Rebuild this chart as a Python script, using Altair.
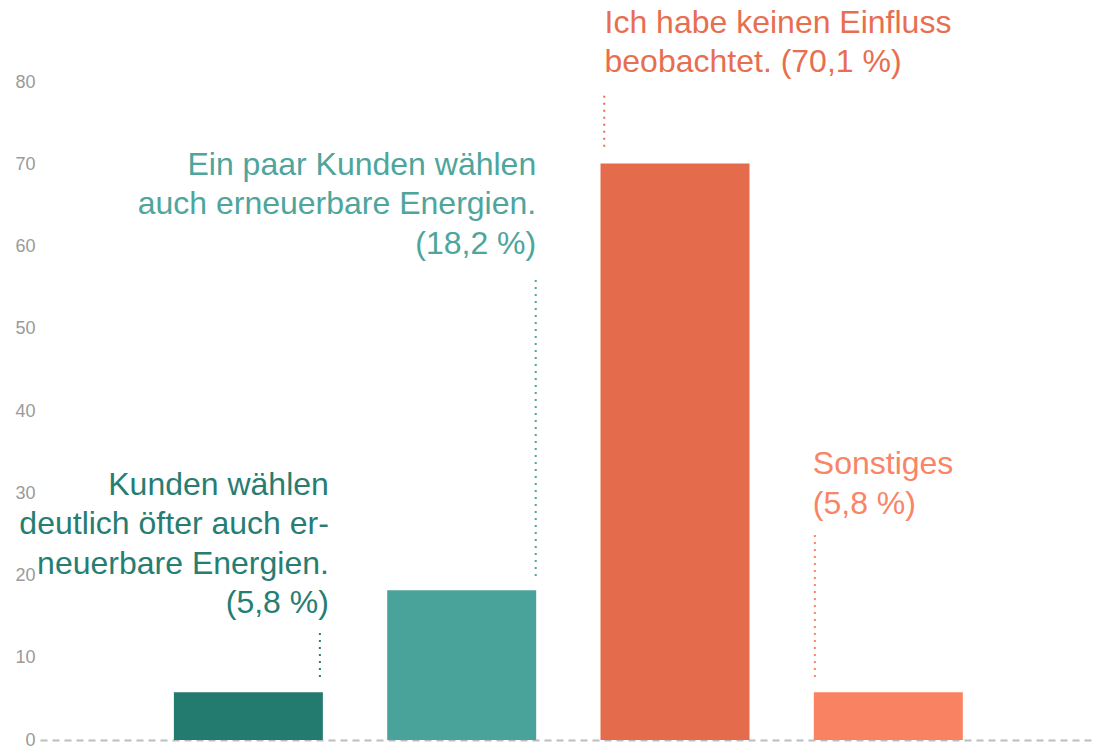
import altair as alt
import pandas as pd

# --- data ---
categories = [
    "Kunden wählen deutlich öfter",
    "Ein paar Kunden",
    "Kein Einfluss",
    "Sonstiges",
]
values = [5.8, 18.2, 70.1, 5.8]
bar_colors = ["#237b70", "#4aa39a", "#e56b4d", "#f98263"]
y_ticks = [0, 10, 20, 30, 40, 50, 60, 70, 80]

label_texts = [
    ["Kunden wählen", "deutlich öfter auch er-", "neuerbare Energien.", "(5,8 %)"],
    ["Ein paar Kunden wählen", "auch erneuerbare Energien.", "(18,2 %)"],
    ["Ich habe keinen Einfluss", "beobachtet. (70,1 %)"],
    ["Sonstiges", "(5,8 %)"],
]
label_colors = ["#277d72", "#4ea59c", "#e86e50", "#f98466"]
label_y = [29.8, 68.7, 86.0, 32.3]          # baseline of first line (data units)
leader_top = [13.6, 56.05, 78.75, 25.5]
leader_bottom = [7.66, 19.94, 72.13, 7.66]

# --- layout constants ---
W, H = 1053, 732
Y_MAX = 89.0
FONT = "Liberation Sans, Arial, Helvetica, sans-serif"

df = pd.DataFrame({"cat": categories, "value": values})

x_scale = alt.Scale(domain=categories, paddingInner=0.3016, paddingOuter=0.619, align=0.507)
y_scale = alt.Scale(domain=[0, Y_MAX], nice=False, zero=True)

bars = alt.Chart(df).mark_bar().encode(
    x=alt.X("cat:N", scale=x_scale, sort=categories,
            axis=alt.Axis(labels=False, ticks=False, title=None, domain=True,
                          domainDash=[7, 5], domainColor="#bdbdbd", domainWidth=2)),
    y=alt.Y("value:Q", scale=y_scale,
            axis=alt.Axis(values=y_ticks, title=None, domain=False, ticks=False, grid=False,
                          labelFont=FONT, labelFontSize=18, labelColor="#9a9a9a",
                          labelPadding=5)),
    color=alt.Color("cat:N", scale=alt.Scale(domain=categories, range=bar_colors), legend=None),
)

layers = [bars]

# annotation styling (right-aligned for the first two, left-aligned for the others)
ann_align = ["right", "right", "left", "left"]
ann_band = [1.0, 1.0, 0.0, 0.0]
ann_dx = [6, 0, 4, -1]
rule_band = [0.98, 0.997, 0.025, 0.007]

for i in range(4):
    adf = pd.DataFrame({
        "cat": [categories[i]],
        "ty": [label_y[i]],
        "txt": ["\n".join(label_texts[i])],
        "r1": [leader_bottom[i]],
        "r2": [leader_top[i]],
    })
    txt = alt.Chart(adf).mark_text(
        align=ann_align[i], baseline="alphabetic", font=FONT, fontSize=32,
        lineBreak="\n", lineHeight=39.5, color=label_colors[i], dx=ann_dx[i],
    ).encode(
        x=alt.X("cat:N", scale=x_scale, bandPosition=ann_band[i]),
        y=alt.Y("ty:Q", scale=y_scale),
        text="txt:N",
    )
    rule = alt.Chart(adf).mark_rule(
        color=label_colors[i], strokeWidth=2, strokeDash=[2, 5],
    ).encode(
        x=alt.X("cat:N", scale=x_scale, bandPosition=rule_band[i]),
        y=alt.Y("r1:Q", scale=y_scale),
        y2="r2:Q",
    )
    layers += [rule, txt]

chart = alt.layer(*layers).properties(
    width=W, height=H,
    background="white",
    autosize=alt.AutoSizeParams(type="none"),
    padding={"left": 32, "top": 0, "right": 0, "bottom": 6},
).configure_view(strokeWidth=0, stroke="transparent")

chart.save("out.html", embed_options={"renderer": "svg", "actions": False})
